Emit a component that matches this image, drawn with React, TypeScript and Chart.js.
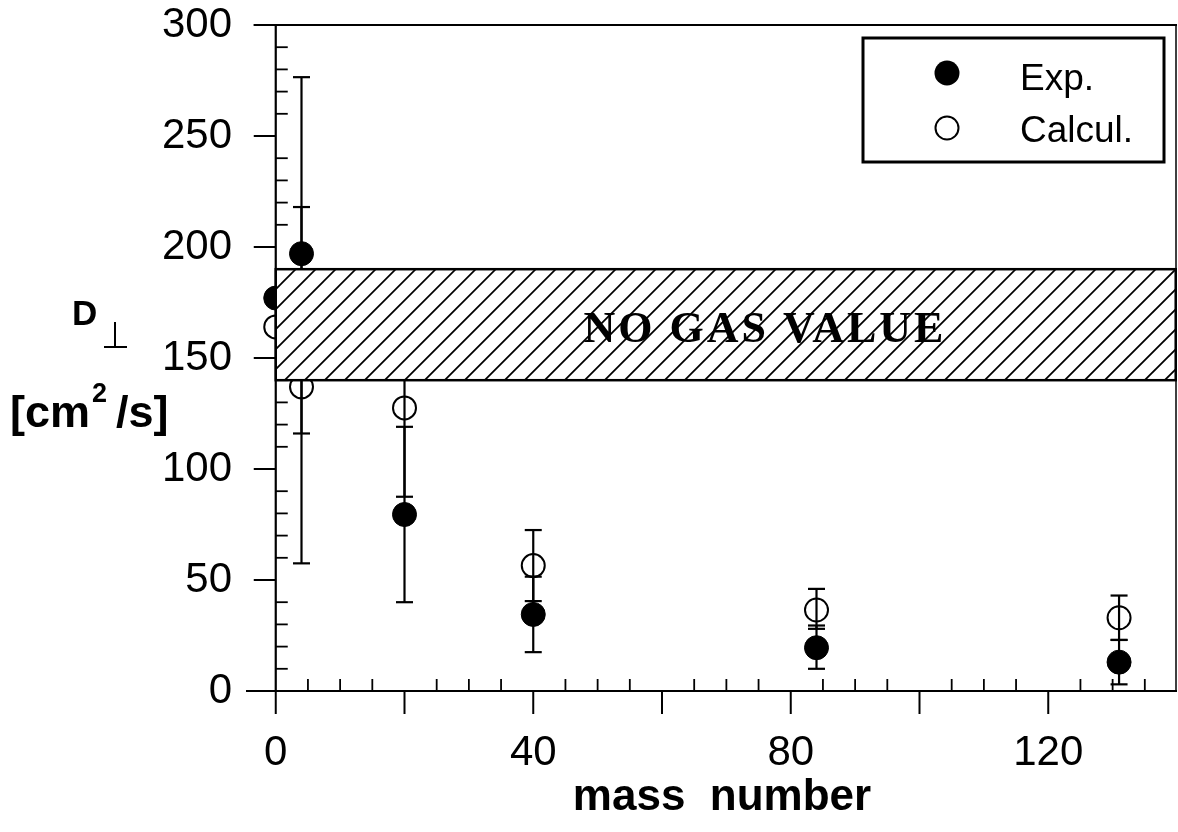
import React, { useEffect, useRef } from 'react';
import { Chart, registerables } from 'chart.js';

Chart.register(...registerables);

// ---- data ----
const massNumbers = [0, 4, 20, 40, 84, 131];
const expValues = [177, 197, 79.5, 34.5, 19.5, 13];
const expErrLow = [null, 116, 40, 17.5, 10, 3];
const expErrHigh = [null, 276.5, 119, 51.5, 29.5, 23];
const calcValues = [164, 137, 127.5, 56.5, 36.5, 33];
const calcErrLow = [null, 57.5, 87.5, 40.5, 28, 23];
const calcErrHigh = [null, 218, 167.5, 72.5, 46, 43];

const xTickLabels = [0, 40, 80, 120];
const yTickLabels = [0, 50, 100, 150, 200, 250, 300];
const xMajorTicks = [0, 20, 40, 60, 80, 100, 120];
const xMinorTicks = [5, 10, 15, 25, 30, 35, 45, 50, 55, 65, 70, 75, 85, 90, 95, 105, 110, 115, 125, 130, 135];
const yMajorTicks = [0, 50, 100, 150, 200, 250, 300];
const yMinorTicks = [10, 20, 30, 40, 60, 70, 80, 90, 110, 120, 130, 140, 160, 170, 180, 190, 210, 220, 230, 240, 260, 270, 280, 290];

const noGasBandY = [140, 190];
const noGasBandX = [0, 139.8];
const noGasLabel = 'NO GAS VALUE';
const noGasLabelPos = [76, 164];

const legendLabels = ['Exp.', 'Calcul.'];
const xTitle = 'mass  number';

const SANS = '"Liberation Sans", Arial, Helvetica, sans-serif';
const SERIF = '"Liberation Serif", "Times New Roman", serif';

function seg(ctx: CanvasRenderingContext2D, x1: number, y1: number, x2: number, y2: number) {
  ctx.beginPath();
  ctx.moveTo(x1, y1);
  ctx.lineTo(x2, y2);
  ctx.stroke();
}

const zeroPad = (s: any) => {
  s.paddingLeft = 0;
  s.paddingRight = 0;
  s.paddingTop = 0;
  s.paddingBottom = 0;
};

const plotPlugin = {
  id: 'sciPlot',
  beforeDatasetsDraw(chart: any) {
    const { ctx, chartArea: a, scales } = chart;
    const x = scales.x;
    const y = scales.y;
    ctx.save();
    ctx.strokeStyle = '#000';
    ctx.lineCap = 'butt';
    const x0 = x.getPixelForValue(0);
    const y0 = y.getPixelForValue(0);
    const yTop = y.getPixelForValue(300);

    // axes & frame
    ctx.lineWidth = 2.2;
    seg(ctx, a.left - 4, y0, a.right, y0);
    seg(ctx, x0, yTop, x0, y0);
    seg(ctx, x0 - 22, yTop, a.right, yTop);
    ctx.lineWidth = 1.5;
    seg(ctx, a.right - 1, yTop, a.right - 1, y0);

    // y ticks
    ctx.lineWidth = 2;
    yMajorTicks.forEach((v) => {
      const p = y.getPixelForValue(v);
      seg(ctx, x0 - 22, p, x0, p);
    });
    ctx.lineWidth = 1.8;
    yMinorTicks.forEach((v) => {
      const p = y.getPixelForValue(v);
      seg(ctx, x0, p, x0 + 12, p);
    });
    // x ticks
    ctx.lineWidth = 2;
    xMajorTicks.forEach((v) => {
      const p = x.getPixelForValue(v);
      seg(ctx, p, y0, p, y0 + 23);
    });
    ctx.lineWidth = 1.8;
    xMinorTicks.forEach((v) => {
      const p = x.getPixelForValue(v);
      seg(ctx, p, y0, p, y0 - 12);
    });

    // error bars
    const drawErr = (lows: (number | null)[], highs: (number | null)[]) => {
      ctx.lineWidth = 2.2;
      massNumbers.forEach((m, i) => {
        const lo = lows[i];
        const hi = highs[i];
        if (lo == null || hi == null) return;
        const px = x.getPixelForValue(m);
        const pl = y.getPixelForValue(lo);
        const ph = y.getPixelForValue(hi);
        seg(ctx, px, pl, px, ph);
        seg(ctx, px - 8.5, pl, px + 8.5, pl);
        seg(ctx, px - 8.5, ph, px + 8.5, ph);
      });
    };
    drawErr(expErrLow, expErrHigh);
    drawErr(calcErrLow, calcErrHigh);
    ctx.restore();
  },
  afterDatasetsDraw(chart: any) {
    const { ctx, scales } = chart;
    const x = scales.x;
    const y = scales.y;
    ctx.save();

    // hatched band
    const bx1 = x.getPixelForValue(noGasBandX[0]);
    const bx2 = x.getPixelForValue(noGasBandX[1]);
    const by1 = y.getPixelForValue(noGasBandY[1]);
    const by2 = y.getPixelForValue(noGasBandY[0]);
    ctx.fillStyle = '#fff';
    ctx.fillRect(bx1, by1, bx2 - bx1, by2 - by1);
    ctx.save();
    ctx.beginPath();
    ctx.rect(bx1, by1, bx2 - bx1, by2 - by1);
    ctx.clip();
    ctx.strokeStyle = '#000';
    ctx.lineWidth = 1.8;
    const h = by2 - by1;
    for (let sx = bx1 - h; sx < bx2 + h; sx += 20) {
      seg(ctx, sx, by2, sx + h, by1);
    }
    ctx.restore();
    ctx.strokeStyle = '#000';
    ctx.lineWidth = 2.5;
    ctx.strokeRect(bx1, by1, bx2 - bx1, by2 - by1);

    // band label
    ctx.fillStyle = '#000';
    ctx.font = `bold 44px ${SERIF}`;
    (ctx as any).letterSpacing = '3px';
    ctx.textAlign = 'center';
    ctx.textBaseline = 'alphabetic';
    ctx.fillText(noGasLabel, x.getPixelForValue(noGasLabelPos[0]), y.getPixelForValue(noGasLabelPos[1]) + 15);
    (ctx as any).letterSpacing = '0px';

    // legend
    ctx.lineWidth = 3;
    ctx.strokeRect(863, 38, 301, 124);
    ctx.beginPath();
    ctx.arc(947, 73, 12.5, 0, Math.PI * 2);
    ctx.fill();
    ctx.lineWidth = 2;
    ctx.beginPath();
    ctx.arc(947, 128, 11.5, 0, Math.PI * 2);
    ctx.stroke();
    ctx.font = `37px ${SANS}`;
    ctx.textAlign = 'left';
    ctx.fillText(legendLabels[0], 1020, 90);
    ctx.fillText(legendLabels[1], 1020, 142);

    // x title
    ctx.font = `bold 44px ${SANS}`;
    ctx.textAlign = 'center';
    ctx.fillText(xTitle, 722, 810);

    // y title
    ctx.textAlign = 'left';
    ctx.font = `bold 35px ${SANS}`;
    ctx.fillText('D', 72, 325);
    ctx.lineWidth = 2;
    seg(ctx, 115, 322, 115, 347);
    seg(ctx, 104, 347, 127, 347);
    ctx.font = `bold 45px ${SANS}`;
    ctx.fillText('[cm', 10, 427);
    let cx = 10 + ctx.measureText('[cm').width + 2;
    ctx.font = `bold 27px ${SANS}`;
    ctx.fillText('2', cx, 402);
    cx += ctx.measureText('2').width + 9;
    ctx.font = `bold 45px ${SANS}`;
    ctx.fillText('/s]', cx, 427);

    ctx.restore();
  },
};

export default function App() {
  const ref = useRef<HTMLCanvasElement | null>(null);
  useEffect(() => {
    if (!ref.current) return;
    const chart = new Chart(ref.current, {
      type: 'scatter',
      data: {
        datasets: [
          {
            label: legendLabels[0],
            data: massNumbers.map((m, i) => ({ x: m, y: expValues[i] })),
            pointRadius: 12,
            pointBackgroundColor: '#000',
            pointBorderColor: '#000',
            pointBorderWidth: 1,
            showLine: false,
            clip: false as any,
          },
          {
            label: legendLabels[1],
            data: massNumbers.map((m, i) => ({ x: m, y: calcValues[i] })),
            pointRadius: 11.5,
            pointBackgroundColor: 'rgba(0,0,0,0)',
            pointBorderColor: '#000',
            pointBorderWidth: 2,
            showLine: false,
            clip: false as any,
          },
        ],
      },
      options: {
        animation: false,
        responsive: false,
        layout: { autoPadding: false, padding: { left: 0, top: 25, right: 1, bottom: 0 } },
        plugins: { legend: { display: false }, tooltip: { enabled: false } },
        scales: {
          x: {
            type: 'linear',
            min: -4,
            max: 140,
            grid: { display: false },
            border: { display: false },
            afterBuildTicks: (s: any) => {
              s.ticks = xTickLabels.map((v) => ({ value: v }));
            },
            afterFit: (s: any) => {
              s.height = 141;
              zeroPad(s);
            },
            ticks: {
              color: '#000',
              font: { size: 42, family: SANS },
              padding: 29,
              maxRotation: 0,
              autoSkip: false,
            },
          },
          y: {
            type: 'linear',
            min: 0,
            max: 300,
            grid: { display: false },
            border: { display: false },
            afterBuildTicks: (s: any) => {
              s.ticks = yTickLabels.map((v) => ({ value: v }));
            },
            afterFit: (s: any) => {
              s.width = 250;
              zeroPad(s);
            },
            ticks: {
              color: '#000',
              font: { size: 42, family: SANS },
              padding: 10,
              autoSkip: false,
            },
          },
        },
      },
      plugins: [plotPlugin],
    });
    return () => chart.destroy();
  }, []);
  return (
    <div style={{ position: 'absolute', left: 0, top: 0, width: 1178, height: 832, background: '#fff' }}>
      <canvas ref={ref} width={1178} height={832} style={{ display: 'block' }} />
    </div>
  );
}
